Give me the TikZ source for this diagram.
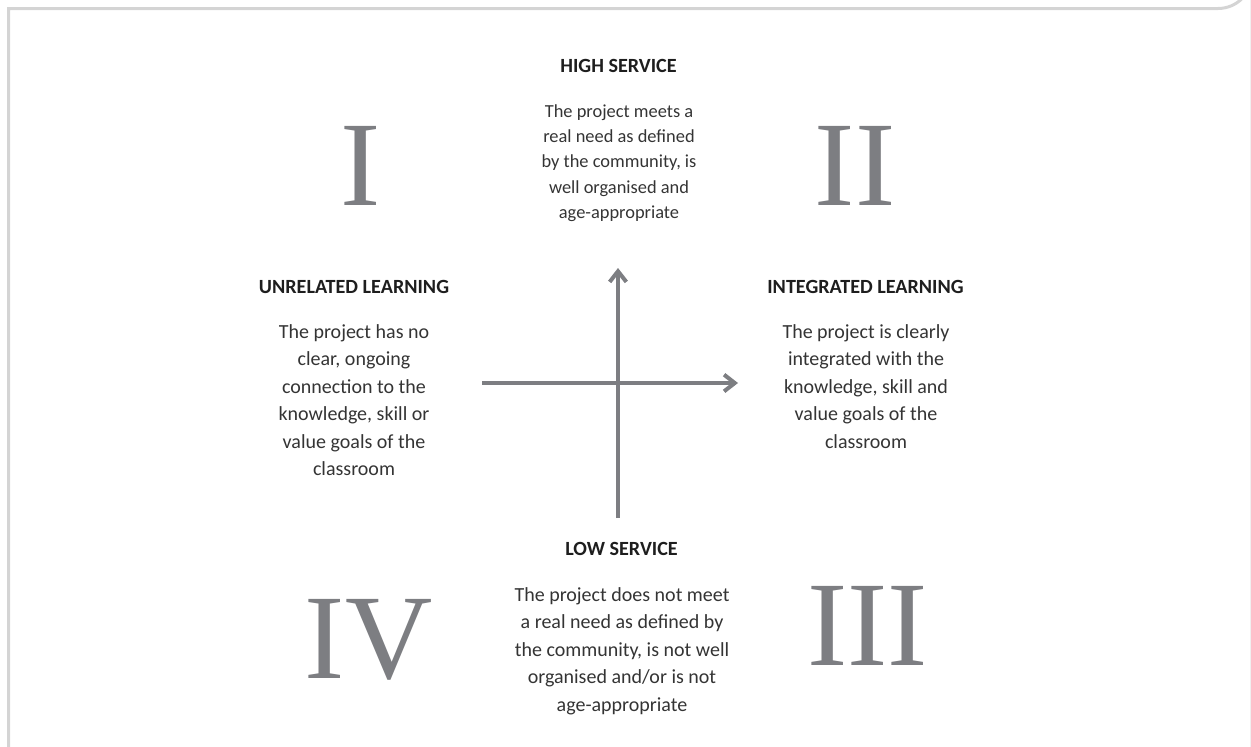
\documentclass[tikz,border=0pt]{standalone}
\usepackage{fontspec}
\setmainfont{Carlito}
\newfontfamily\numfont{Liberation Serif}
\usetikzlibrary{arrows.meta}
\definecolor{framegray}{RGB}{212,212,212}
\definecolor{axisgray}{RGB}{125,126,130}
\definecolor{headtext}{RGB}{30,30,30}
\definecolor{bodytext}{RGB}{52,52,52}
\begin{document}
\begin{tikzpicture}[x=0.75pt,y=-0.75pt,
  heading/.style={font=\fontsize{15.1}{18}\selectfont\bfseries, text=headtext, inner sep=0pt, anchor=base},
  body/.style={font=\fontsize{15}{20.6}\selectfont, text=bodytext, align=center, inner sep=0pt, anchor=north},
  bodytight/.style={body, font=\fontsize{13.8}{19}\selectfont},
  numeral/.style={font=\numfont\fontsize{90.6}{100}\selectfont, text=axisgray, inner sep=0pt, anchor=base},
  axis/.style={draw=axisgray, line width=3pt, -{Straight Barb[length=8pt,width=12.5pt]}},
  frame/.style={draw=framegray, line width=2.25pt}
]
\useasboundingbox (0,0) rectangle (1251,746);
% frame
\draw[frame] (8.5,760) -- (8.5,8.5) -- (1218,8.5) arc[start angle=90, end angle=0, radius=34] -- (1252,760);
% axes
\coordinate (hL) at (482,383);
\coordinate (hR) at (738,383);
\coordinate (vB) at (618,518);
\coordinate (vT) at (618,268);
\draw[axis] (hL) -- (hR);
\draw[axis] (vB) -- (vT);
% numerals
\node[numeral] (n1) at (360.5,205) {I};
\node[numeral] (n2) at (855,205) {II};
\node[numeral] (n4) at (368.5,678) {IV};
\node[numeral] (n3) at (867.5,665) {III};
% headings
\node[heading] (hs) at (618.5,72) {HIGH SERVICE};
\node[heading] (ul) at (354,293) {UNRELATED LEARNING};
\node[heading] (il) at (865.5,293) {INTEGRATED LEARNING};
\node[heading] (ls) at (621.5,555) {LOW SERVICE};
% bodies
\node[bodytight] (hsb) at (619,98.3) {\rule{0pt}{14pt}The project meets a\\real need as defined\\by the community, is\\well organised and\\age-appropriate};
\node[body] (ulb) at (354,319.3) {\rule{0pt}{14pt}The project has no\\clear, ongoing\\connection to the\\knowledge, skill or\\value goals of the\\classroom};
\node[body] (ilb) at (866,319.3) {\rule{0pt}{14pt}The project is clearly\\integrated with the\\knowledge, skill and\\value goals of the\\classroom};
\node[body] (lsb) at (622,582.3) {\rule{0pt}{14pt}The project does not meet\\a real need as defined by\\the community, is not well\\organised and/or is not\\age-appropriate};
\end{tikzpicture}
\end{document}
